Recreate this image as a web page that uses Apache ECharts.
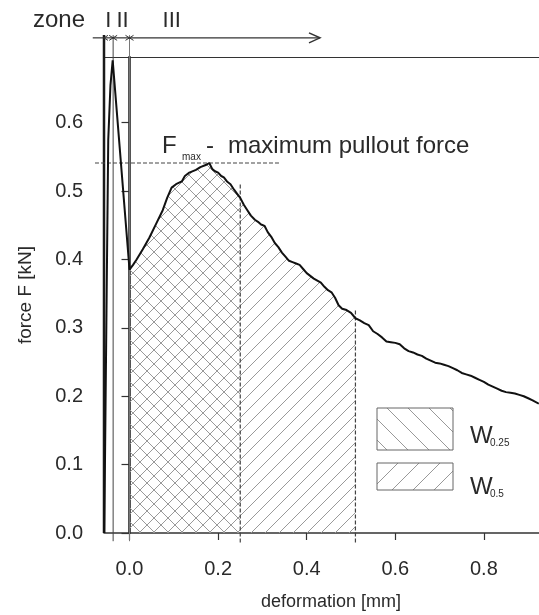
<!DOCTYPE html>
<html><head><meta charset="utf-8">
<script src="https://cdn.jsdelivr.net/npm/echarts@6/dist/echarts.min.js"></script>
<style>html,body{margin:0;padding:0;background:#fff}#c{width:539px;height:615px}</style>
</head><body><div id="c"></div>
<script>
// ---- data ----
const deformation = [-0.057,-0.0515,-0.048,-0.043,-0.038,0.000,0.008,0.016,0.030,0.045,0.060,0.075,0.085,0.095,0.105,0.118,0.125,0.135,0.150,0.160,0.172,0.180,
0.187,0.193,0.200,0.207,0.213,0.220,0.228,0.236,0.243,0.250,0.258,0.266,0.274,0.283,0.290,0.297,0.305,0.312,0.320,0.328,0.336,0.344,0.352,0.360,0.368,0.376,0.384,0.392,0.400,0.408,0.416,0.424,0.432,0.440,0.448,0.456,0.464,0.472,0.480,0.490,0.500,0.510,
0.520,0.530,0.540,0.550,0.560,0.570,0.580,0.590,0.600,0.610,0.620,0.630,0.640,0.650,0.660,0.670,0.680,0.690,0.700,0.710,0.720,0.730,0.740,0.750,0.760,0.770,0.780,0.790,0.800,0.810,0.820,0.830,0.840,0.850,0.860,0.870,0.880,0.890,0.900,0.910,0.924];
const force = [0.000,0.355,0.575,0.655,0.691,0.385,0.392,0.400,0.415,0.432,0.452,0.472,0.490,0.505,0.510,0.514,0.522,0.527,0.531,0.535,0.538,0.541,
0.532,0.529,0.527,0.522,0.520,0.514,0.510,0.502,0.496,0.490,0.480,0.472,0.464,0.458,0.455,0.451,0.449,0.440,0.433,0.424,0.418,0.410,0.404,0.398,0.396,0.394,0.392,0.386,0.380,0.376,0.372,0.369,0.366,0.360,0.355,0.352,0.344,0.333,0.328,0.326,0.322,0.314,
0.311,0.307,0.304,0.295,0.291,0.286,0.280,0.279,0.278,0.276,0.270,0.266,0.264,0.261,0.259,0.255,0.252,0.249,0.248,0.246,0.244,0.241,0.238,0.234,0.232,0.230,0.227,0.224,0.221,0.217,0.214,0.211,0.208,0.206,0.205,0.204,0.202,0.200,0.197,0.194,0.189];
const xTicks = [0.0, 0.2, 0.4, 0.6, 0.8];
const yTicks = [0.0, 0.1, 0.2, 0.3, 0.4, 0.5, 0.6];
const zoneBounds = [-0.0576, -0.037, 0.0];
const zoneNames = ['I', 'II', 'III'];
const fMax = 0.541;
const wLimits = [0.25, 0.51];
const wNames = ['0.25', '0.5'];

// ---- helpers ----
function hatch(dir, s, color, w) {
  const c = document.createElement('canvas'); c.width = s; c.height = s;
  const g = c.getContext('2d'); g.strokeStyle = color; g.lineWidth = w;
  g.beginPath();
  for (const o of [-s, 0, s]) {
    if (dir === '/') { g.moveTo(o, s); g.lineTo(o + s, 0); }
    else { g.moveTo(o, 0); g.lineTo(o + s, s); }
  }
  g.stroke(); return c;
}
const slashArea = {image: hatch('/', 14, '#999', 1), repeat: 'repeat'};
const backArea = {image: hatch('\\', 14, '#999', 1), repeat: 'repeat'};
const slashLeg = {image: hatch('/', 21, '#999', 1), repeat: 'repeat'};
const backLeg = {image: hatch('\\', 21, '#999', 1), repeat: 'repeat'};

const curve = deformation.map((x, i) => [x, force[i]]);
const areaW = lim => curve.filter(p => p[0] >= 0 && p[0] <= lim + 1e-9);
const forceAt = lim => curve.find(p => Math.abs(p[0] - lim) < 1e-9)[1];

// annotation segments: [x1,y1,x2,y2,kind]
const yTop = 0.728, yBelow = -0.012, yArrow = 0.724;
const ann = [];
ann.push([zoneBounds[0], 0, zoneBounds[0], yTop, 0]);
ann.push([zoneBounds[1], yBelow, zoneBounds[1], yTop, 1]);
ann.push([zoneBounds[2], yBelow, zoneBounds[2], yTop, 2]);
ann.push([-0.083, yArrow, zoneBounds[0], yArrow, 4]);
ann.push([zoneBounds[0], yArrow, zoneBounds[1], yArrow, 5]);
ann.push([zoneBounds[1], yArrow, zoneBounds[2], yArrow, 5]);
ann.push([zoneBounds[2], yArrow, 0.43, yArrow, 6]);
ann.push([-0.078, fMax, 0.34, fMax, 3]);
ann.push([wLimits[0], yBelow - 0.002, wLimits[0], 0.51, 3]);
ann.push([wLimits[1], yBelow - 0.002, wLimits[1], forceAt(wLimits[1]) + 0.012, 3]);

const kinds = [
  {c:'#1a1a1a', w:2.5},
  {c:'#444', w:1},
  {c:'#777', w:1},
  {c:'#444', w:1.2, d:[4,2]},
  {c:'#333', w:1.2},
  {c:'#333', w:1.2},
  {c:'#333', w:1.2}
];

const txt = '#2a2a2a';
const font = '"Liberation Sans", Arial, sans-serif';
const chart = echarts.init(document.getElementById('c'));
chart.setOption({
  animation: false,
  backgroundColor: '#fff',
  grid: {left: 104, right: 0, top: 57, bottom: 82, containLabel: false, outerBoundsMode: 'none'},
  xAxis: [{
    type: 'value', min: -0.0576, max: 0.9244,
    name: 'deformation [mm]', nameLocation: 'middle', nameGap: 60,
    nameTextStyle: {fontSize: 18, color: txt, fontFamily: font, padding: [0,0,0,19]},
    axisLine: {lineStyle: {color: '#333', width: 1.5}},
    axisTick: {length: 7, customValues: xTicks, lineStyle: {color: '#333', width: 1.2}},
    axisLabel: {customValues: xTicks, formatter: v => v.toFixed(1), fontSize: 20, color: txt, fontFamily: font, margin: 26},
    splitLine: {show: false}
  }, {
    type: 'value', position: 'top', min: -0.0576, max: 0.9244,
    axisLine: {lineStyle: {color: '#333', width: 1.2}},
    axisTick: {show: false}, axisLabel: {show: false}, splitLine: {show: false}
  }],
  yAxis: {
    type: 'value', min: 0, max: 0.696,
    name: 'force F [kN]', nameLocation: 'middle', nameGap: 69,
    nameTextStyle: {fontSize: 19, color: txt, fontFamily: font},
    axisLine: {lineStyle: {color: '#1a1a1a', width: 2.5}},
    axisTick: {length: 8, customValues: yTicks, lineStyle: {color: '#333', width: 1.2}},
    axisLabel: {customValues: yTicks, formatter: v => v.toFixed(1), fontSize: 20, color: txt, fontFamily: font, margin: 21},
    splitLine: {show: false}
  },
  series: [
    {type: 'line', data: areaW(wLimits[1]), symbol: 'none', lineStyle: {width: 0, opacity: 0},
     areaStyle: {color: slashArea, opacity: 1}, z: 1, silent: true},
    {type: 'line', data: areaW(wLimits[0]), symbol: 'none', lineStyle: {width: 0, opacity: 0},
     areaStyle: {color: backArea, opacity: 1}, z: 2, silent: true},
    {type: 'line', data: curve, symbol: 'none', lineStyle: {color: '#111', width: 2}, z: 5, silent: true},
    {type: 'custom', data: ann, clip: false, z: 4, silent: true,
     encode: {x: [0, 2], y: [1, 3]},
     renderItem(params, api) {
       const a = api.coord([api.value(0), api.value(1)]);
       const b = api.coord([api.value(2), api.value(3)]);
       const k = api.value(4); const st = kinds[k];
       const ch = [{type: 'line', shape: {x1: a[0], y1: a[1], x2: b[0], y2: b[1]},
         style: {stroke: st.c, lineWidth: st.w, lineDash: st.d || null}}];
       if (k === 5 || k === 6) {
         ch.push({type: 'polyline', shape: {points: [[a[0] + 4, a[1] - 2.5], [a[0], a[1]], [a[0] + 4, a[1] + 2.5]]},
           style: {stroke: st.c, lineWidth: 1, fill: 'none'}});
         const e = k === 6 ? 11 : 4, h = k === 6 ? 5 : 2.5;
         ch.push({type: 'polyline', shape: {points: [[b[0] - e, b[1] - h], [b[0], b[1]], [b[0] - e, b[1] + h]]},
           style: {stroke: st.c, lineWidth: k === 6 ? 1.5 : 1, fill: 'none'}});
       }
       return {type: 'group', children: ch};
     }}
  ],
  graphic: [
    {type: 'text', left: 33, top: 8, style: {text: 'zone', font: '24px ' + font, fill: txt}},
    {type: 'text', x: 108.3, y: 21.3, style: {text: zoneNames[0], font: '22px ' + font, fill: txt, align: 'center', verticalAlign: 'middle'}},
    {type: 'text', x: 122.5, y: 21.3, style: {text: zoneNames[1], font: '22px ' + font, fill: txt, align: 'center', verticalAlign: 'middle'}},
    {type: 'text', x: 171.7, y: 21.3, style: {text: zoneNames[2], font: '22px ' + font, fill: txt, align: 'center', verticalAlign: 'middle'}},
    {type: 'text', x: 162, y: 146.5, style: {text: 'F', font: '24px ' + font, fill: txt, verticalAlign: 'middle'}},
    {type: 'text', x: 182, y: 157, style: {text: 'max', font: '10px ' + font, fill: txt, verticalAlign: 'middle'}},
    {type: 'text', x: 206, y: 146.5, style: {text: '-', font: '24px ' + font, fill: txt, verticalAlign: 'middle'}},
    {type: 'text', x: 228, y: 146.5, style: {text: 'maximum pullout force', font: '24px ' + font, fill: txt, verticalAlign: 'middle'}},
    {type: 'rect', shape: {x: 377, y: 408, width: 76, height: 42}, style: {fill: backLeg, stroke: '#666', lineWidth: 1}},
    {type: 'rect', shape: {x: 377, y: 463, width: 76, height: 27}, style: {fill: slashLeg, stroke: '#666', lineWidth: 1}},
    {type: 'text', x: 470, y: 436.7, style: {text: 'W', font: '24px ' + font, fill: txt, verticalAlign: 'middle'}},
    {type: 'text', x: 490, y: 443, style: {text: wNames[0], font: '10px ' + font, fill: txt, verticalAlign: 'middle'}},
    {type: 'text', x: 470, y: 487.5, style: {text: 'W', font: '24px ' + font, fill: txt, verticalAlign: 'middle'}},
    {type: 'text', x: 490, y: 494, style: {text: wNames[1], font: '10px ' + font, fill: txt, verticalAlign: 'middle'}}
  ]
});
</script></body></html>
